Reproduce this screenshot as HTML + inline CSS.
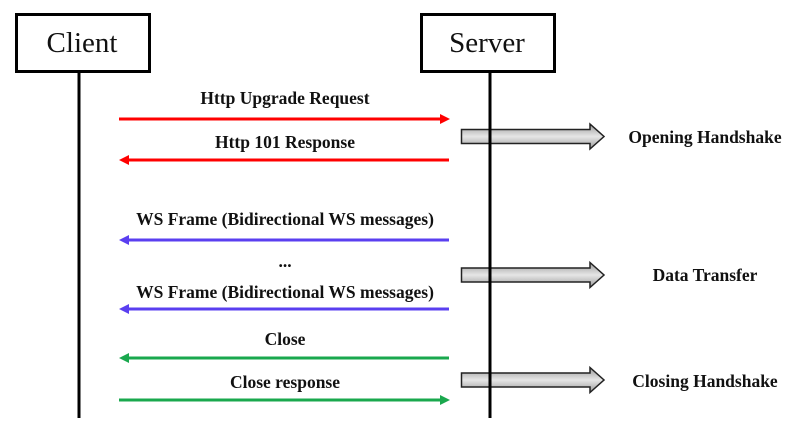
<!DOCTYPE html>
<html><head><meta charset="utf-8"><style>
html,body{margin:0;padding:0;background:#fff;width:811px;height:439px;overflow:hidden}
text{font-family:"Liberation Serif",serif;font-weight:bold;font-size:17.5px;fill:#111}
</style></head><body>
<svg width="811" height="439" viewBox="0 0 811 439" xmlns="http://www.w3.org/2000/svg">
<defs>
<linearGradient id="g" x1="0" y1="0" x2="0" y2="1">
<stop offset="0" stop-color="#9a9a9a"/><stop offset="0.5" stop-color="#e6e6e6"/><stop offset="1" stop-color="#9a9a9a"/>
</linearGradient>
</defs>
<rect x="16.5" y="14.5" width="133" height="57" fill="#fff" stroke="#000" stroke-width="3"/>
<text x="82" y="52" text-anchor="middle" style="font-size:29px;font-weight:normal">Client</text>
<rect x="421.5" y="14.5" width="133" height="57" fill="#fff" stroke="#000" stroke-width="3"/>
<text x="487" y="52" text-anchor="middle" style="font-size:29px;font-weight:normal">Server</text>

<g fill="url(#g)" stroke="#222" stroke-width="1.5">
<path d="M461.5,129.5 H590 V124 L604,136.5 L590,149 V143.5 H461.5 Z"/>
<path d="M461.5,268 H590 V262.5 L604,275 L590,287.5 V282 H461.5 Z"/>
<path d="M461.5,373 H590 V367.5 L604,380 L590,392.5 V387 H461.5 Z"/>
</g>

<line x1="79" y1="72" x2="79" y2="418" stroke="#000" stroke-width="3"/>
<line x1="490" y1="72" x2="490" y2="418" stroke="#000" stroke-width="3"/>

<g stroke-width="3">
<line x1="119" y1="119" x2="442" y2="119" stroke="#f00"/>
<path d="M440,114 L450,119 L440,124 Z" fill="#f00"/>
<line x1="127" y1="160" x2="449" y2="160" stroke="#f00"/>
<path d="M129,155 L119,160 L129,165 Z" fill="#f00"/>
<line x1="127" y1="240" x2="449" y2="240" stroke="#5a3ff0"/>
<path d="M129,235 L119,240 L129,245 Z" fill="#5a3ff0"/>
<line x1="127" y1="309" x2="449" y2="309" stroke="#5a3ff0"/>
<path d="M129,304 L119,309 L129,314 Z" fill="#5a3ff0"/>
<line x1="127" y1="358" x2="449" y2="358" stroke="#1aa84e"/>
<path d="M129,353 L119,358 L129,363 Z" fill="#1aa84e"/>
<line x1="119" y1="400" x2="442" y2="400" stroke="#1aa84e"/>
<path d="M440,395 L450,400 L440,405 Z" fill="#1aa84e"/>
</g>

<text x="285" y="104" text-anchor="middle">Http Upgrade Request</text>
<text x="285" y="148" text-anchor="middle">Http 101 Response</text>
<text x="285" y="225" text-anchor="middle">WS Frame (Bidirectional WS messages)</text>
<text x="285" y="267" text-anchor="middle">...</text>
<text x="285" y="298" text-anchor="middle">WS Frame (Bidirectional WS messages)</text>
<text x="285" y="345" text-anchor="middle">Close</text>
<text x="285" y="388" text-anchor="middle">Close response</text>
<text x="705" y="143" text-anchor="middle">Opening Handshake</text>
<text x="705" y="281" text-anchor="middle">Data Transfer</text>
<text x="705" y="387" text-anchor="middle">Closing Handshake</text>
</svg>
</body></html>
